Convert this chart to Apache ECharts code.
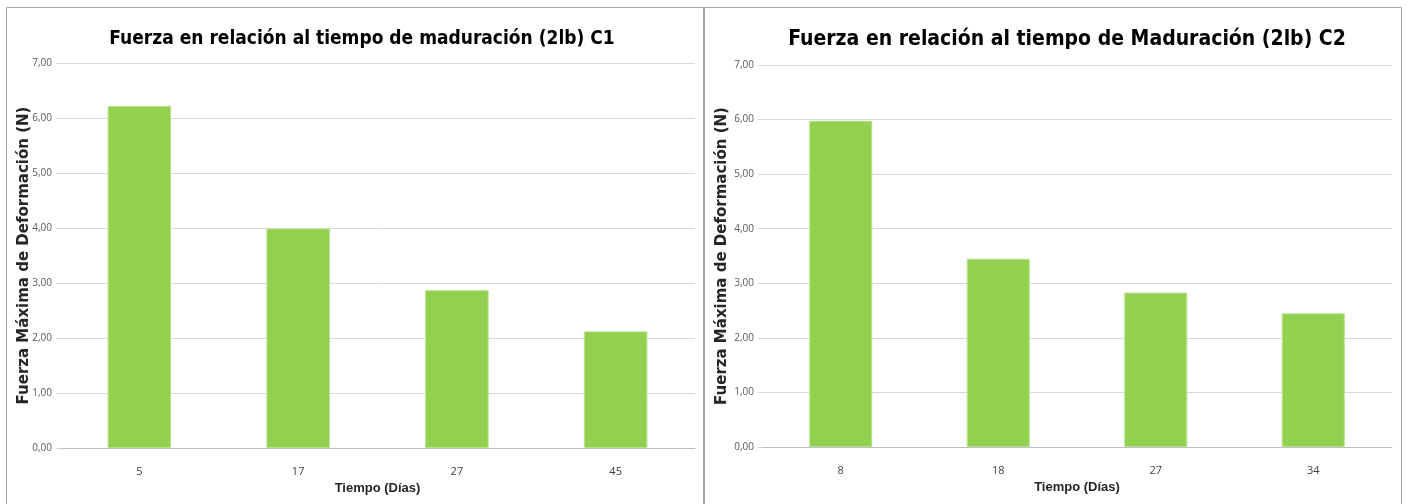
<!DOCTYPE html>
<html>
<head>
<meta charset="utf-8">
<script src="https://cdn.jsdelivr.net/npm/echarts@6/dist/echarts.min.js"></script>
<style>
html,body{margin:0;padding:0;background:#fff;}
#c{width:1410px;height:504px;}
</style>
</head>
<body>
<div id="c"></div>
<script>
// Data
const titleC1 = 'Fuerza en relación al tiempo de maduración (2lb) C1';
const titleC2 = 'Fuerza en relación al tiempo de Maduración (2lb) C2';
const daysC1 = ['5', '17', '27', '45'];
const forceC1 = [6.22, 3.99, 2.87, 2.12];
const daysC2 = ['8', '18', '27', '34'];
const forceC2 = [5.98, 3.45, 2.83, 2.45];
const yName = 'Fuerza Máxima de Deformación (N)';
const xName = 'Tiempo (Días)';

const chart = echarts.init(document.getElementById('c'), null, {renderer: 'canvas'});
const fmt = v => v.toFixed(2).replace('.', ',');

function yAxis(gi, gap) {
  return {
    type: 'value', gridIndex: gi, min: 0, max: 7, interval: 1,
    name: yName, nameLocation: 'middle', nameGap: gap, nameRotate: 90,
    nameMoveOverlap: false,
    nameTextStyle: {fontFamily: 'DejaVu Sans, sans-serif', fontWeight: 'bold', fontSize: 15, color: '#262626'},
    axisLine: {show: false},
    axisTick: {show: true, length: 4, lineStyle: {color: '#d9d9d9'}},
    axisLabel: {formatter: fmt, fontFamily: 'Open Sans, sans-serif', fontSize: 10, color: '#595959', margin: 8},
    splitLine: {lineStyle: {color: '#d9d9d9', width: 1}}
  };
}
function xAxis(gi, cats) {
  return {
    type: 'category', gridIndex: gi, data: cats,
    name: xName, nameLocation: 'middle', nameGap: 34,
    nameTextStyle: {fontFamily: 'Liberation Sans, sans-serif', fontWeight: 'bold', fontSize: 13, color: '#262626'},
    axisLine: {lineStyle: {color: '#bfbfbf', width: 1}},
    axisTick: {show: false},
    axisLabel: {fontFamily: 'Open Sans, sans-serif', fontSize: 11, color: '#404040', margin: 18}
  };
}
function bar(gi, vals) {
  return {
    type: 'bar', xAxisIndex: gi, yAxisIndex: gi, data: vals,
    barWidth: '40%',
    itemStyle: {color: '#92d050', borderColor: '#b6e38a', borderWidth: 1},
    silent: true
  };
}
const titleFont = 'DejaVu Sans Condensed, DejaVu Sans, sans-serif';

chart.setOption({
  animation: false,
  backgroundColor: '#ffffff',
  title: [
    {text: titleC1, left: 357, top: 25, textAlign: 'center',
     textStyle: {fontFamily: titleFont, fontWeight: 'bold', fontSize: 19, color: '#000'}},
    {text: titleC2, left: 1062, top: 24, textAlign: 'center',
     textStyle: {fontFamily: titleFont, fontWeight: 'bold', fontSize: 21, color: '#000'}}
  ],
  graphic: [
    {type: 'rect', shape: {x: 6.5, y: 7.5, width: 697, height: 510}, style: {fill: 'none', stroke: '#a6a6a6', lineWidth: 1}, silent: true},
    {type: 'rect', shape: {x: 704.5, y: 7.5, width: 697, height: 510}, style: {fill: 'none', stroke: '#a6a6a6', lineWidth: 1}, silent: true}
  ],
  grid: [
    {left: 60, right: 715, top: 63, bottom: 56},
    {left: 762, right: 18, top: 65, bottom: 57}
  ],
  xAxis: [xAxis(0, daysC1), xAxis(1, daysC2)],
  yAxis: [yAxis(0, 28), yAxis(1, 32)],
  series: [bar(0, forceC1), bar(1, forceC2)]
});
</script>
</body>
</html>
